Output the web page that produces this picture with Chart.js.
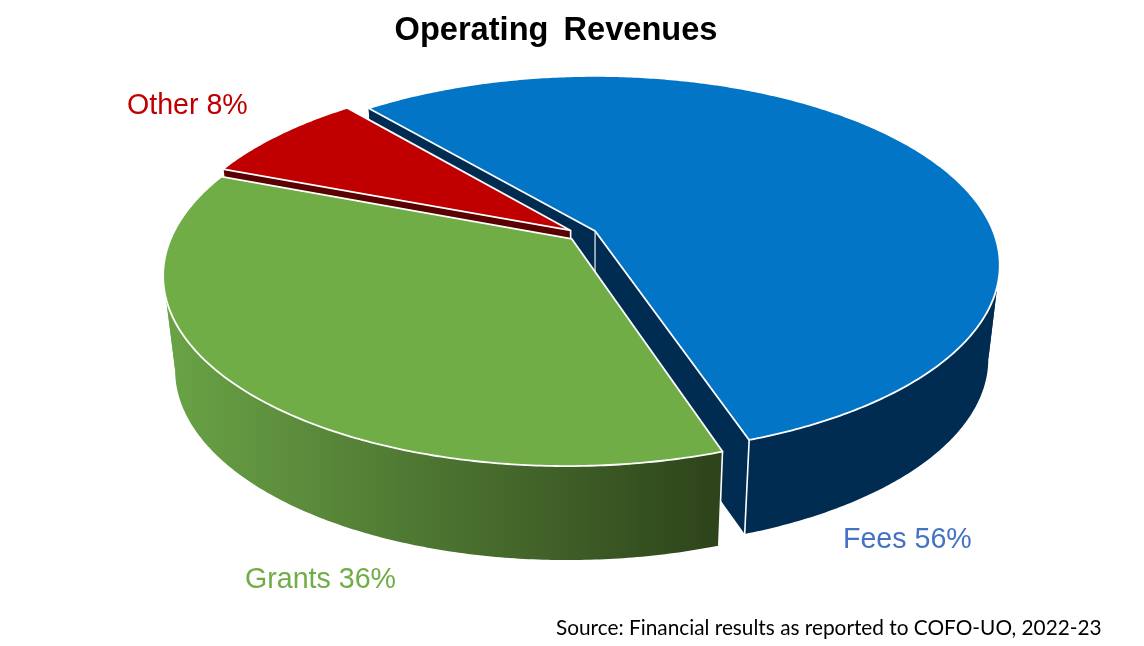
<!DOCTYPE html>
<html>
<head>
<meta charset="utf-8">
<title>Operating Revenues</title>
<script src="https://cdn.jsdelivr.net/npm/chart.js@4"></script>
<style>
  body { margin: 0; background: #fff; }
  canvas { display: block; }
</style>
</head>
<body>
<canvas id="pieChart" width="1144" height="646"></canvas>
<script>
const categories = ['Fees', 'Grants', 'Other'];
const shares = [56, 36, 8];

const topColors = ['#0275c7', '#70ad47', '#c00000'];
const wallColors = ['#012c52', null, '#5a0000'];   // null = green gradient
const labelColors = ['#4472c4', '#70ad47', '#c00000'];
const labelSpots = [[843, 548], [245, 588], [127, 114]];
const sourceText = 'Source: Financial results as reported to COFO-UO, 2022-23';

// tilted disc: pie plane to screen
const view = { x: 594, y: 231, a: 398, b: 183, k: 0.18, cu: -0.029, cv: 0.018, depth: 94, shrink: 0.972, vx: 590 };

function project(u, v) {
  const w = 1 - view.k * v;
  return { x: view.x + view.a * u / w, y: view.y + view.b * v / w };
}
function below(p) {
  return { x: view.vx + (p.x - view.vx) * view.shrink, y: p.y + view.depth };
}
function tracePath(ctx, pts) {
  ctx.beginPath();
  pts.forEach((p, i) => i ? ctx.lineTo(p.x, p.y) : ctx.moveTo(p.x, p.y));
}
function edgeLine(ctx, p, color) {
  const q = below(p);
  ctx.strokeStyle = color;
  ctx.lineWidth = 1.6;
  ctx.beginPath();
  ctx.moveTo(p.x, p.y);
  ctx.lineTo(q.x, q.y);
  ctx.stroke();
}
// outer wall, split where it turns away so the polygons do not fold over
function fillRimWall(ctx, rim) {
  let run = [rim[0]];
  let runSign = 0;
  const flush = () => {
    if (run.length < 2) return;
    tracePath(ctx, run.concat(run.slice().reverse().map(below)));
    ctx.closePath();
    ctx.fill();
  };
  for (let s = 1; s < rim.length; s++) {
    const dx = rim[s].x - rim[s - 1].x;
    const sign = dx >= 0 ? 1 : -1;
    if (runSign && sign !== runSign) {
      flush();
      run = [rim[s - 1]];
    }
    runSign = sign;
    run.push(rim[s]);
  }
  flush();
}

const tiltedPie = {
  id: 'tiltedPie',
  beforeDraw(chart) {
    chart.ctx.wordSpacing = '6px';
  },
  beforeDatasetsDraw(chart) {
    const ctx = chart.ctx;
    ctx.wordSpacing = '0px';
    const arcs = chart.getDatasetMeta(0).data;

    const greenWall = ctx.createLinearGradient(165, 0, 722, 0);
    greenWall.addColorStop(0, '#6aa346');
    greenWall.addColorStop(1, '#2d431a');

    // back to front
    [0, 2, 1].forEach(i => {
      const el = arcs[i];
      const R = el.outerRadius;
      const mid = (el.startAngle + el.endAngle) / 2;
      const off = el.options.offset / R;
      const ou = view.cu + off * Math.cos(mid);
      const ov = view.cv + off * Math.sin(mid);
      const steps = Math.ceil((el.endAngle - el.startAngle) / 0.01);
      const rim = [];
      for (let s = 0; s <= steps; s++) {
        const a = el.startAngle + (el.endAngle - el.startAngle) * s / steps;
        rim.push(project(ou + Math.cos(a), ov + Math.sin(a)));
      }
      const apex = project(ou, ov);
      const first = rim[0];
      const last = rim[rim.length - 1];
      const wall = wallColors[i] || greenWall;

      ctx.save();
      ctx.fillStyle = wall;
      ctx.lineJoin = 'round';

      tracePath(ctx, [apex, first, below(first), below(apex)]);
      ctx.fill();
      tracePath(ctx, [apex, last, below(last), below(apex)]);
      ctx.fill();
      fillRimWall(ctx, rim);

      edgeLine(ctx, apex, i === 0 ? '#b4bec8' : '#ffffff');
      // corners turned to the back stay hidden
      if (Math.sin(el.startAngle) > -0.5) edgeLine(ctx, first, '#ffffff');
      if (Math.sin(el.endAngle) > -0.5) edgeLine(ctx, last, '#ffffff');

      tracePath(ctx, [apex].concat(rim));
      ctx.closePath();
      ctx.fillStyle = el.options.backgroundColor;
      ctx.fill();
      ctx.strokeStyle = el.options.borderColor;
      ctx.lineWidth = el.options.borderWidth;
      ctx.stroke();
      ctx.restore();
    });

    ctx.save();
    ctx.textAlign = 'left';
    ctx.textBaseline = 'alphabetic';
    ctx.font = '28.6px "Liberation Sans"';
    categories.forEach((name, i) => {
      ctx.fillStyle = labelColors[i];
      ctx.fillText(name + ' ' + shares[i] + '%', labelSpots[i][0], labelSpots[i][1]);
    });
    ctx.font = '20.8px Lato';
    ctx.fillStyle = '#000000';
    ctx.fillText(sourceText, 556, 635);
    ctx.restore();

    return false;
  }
};

new Chart(document.getElementById('pieChart').getContext('2d'), {
  type: 'pie',
  data: {
    labels: categories,
    datasets: [{
      data: shares,
      backgroundColor: topColors,
      borderColor: '#ffffff',
      borderWidth: 1.8,
      offset: 10.5
    }]
  },
  options: {
    responsive: false,
    animation: false,
    rotation: -40.3,
    layout: { padding: { right: 32 } },
    plugins: {
      legend: { display: false },
      tooltip: { enabled: false },
      title: {
        display: true,
        text: 'Operating Revenues',
        color: '#000000',
        font: { family: '"Liberation Sans"', size: 32.6, weight: 'bold' },
        padding: { top: 11, bottom: 8 }
      }
    }
  },
  plugins: [tiltedPie]
});
</script>
</body>
</html>
